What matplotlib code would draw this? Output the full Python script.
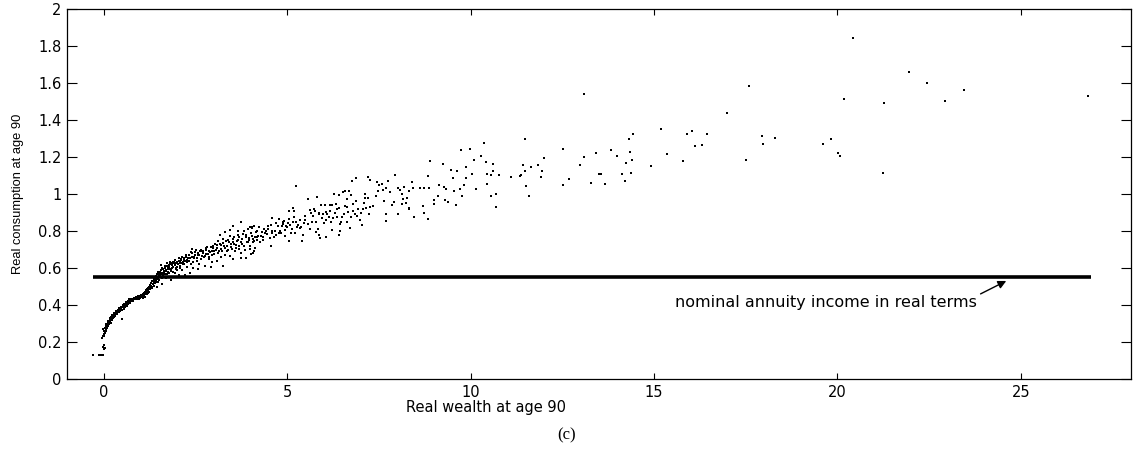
import matplotlib
matplotlib.use("Agg")
import matplotlib.pyplot as plt
from matplotlib import font_manager

# ---------------- data ----------------
# (real wealth at age 90, real consumption at age 90)
cloud_start = [
    (-0.30, 0.13), (-0.14, 0.13), (-0.08, 0.13), (-0.03, 0.13), (0.00, 0.16), (0.02, 0.17),
    (-0.02, 0.175), (0.01, 0.185), (0.03, 0.165), (-0.04, 0.22), (-0.02, 0.235), (0.00, 0.245),
    (0.01, 0.26), (-0.01, 0.27), (0.03, 0.25), (0.04, 0.275), (0.05, 0.26), (0.06, 0.285),
    (0.08, 0.28), (0.09, 0.295), (0.10, 0.30), (0.12, 0.29), (0.13, 0.31), (0.15, 0.305),
    (0.16, 0.32), (0.18, 0.315), (0.20, 0.325), (0.21, 0.335), (0.23, 0.33), (0.25, 0.34),
    (0.27, 0.345), (0.28, 0.335), (0.30, 0.35), (0.32, 0.355), (0.34, 0.35), (0.35, 0.36),
    (0.37, 0.365), (0.39, 0.36), (0.40, 0.37), (0.42, 0.375), (0.44, 0.38), (0.46, 0.375),
    (0.48, 0.385), (0.50, 0.39), (0.51, 0.326), (0.53, 0.395), (0.55, 0.39), (0.57, 0.40),
    (0.60, 0.405), (0.62, 0.40), (0.64, 0.41), (0.66, 0.415), (0.68, 0.42), (0.70, 0.415),
    (0.72, 0.425), (0.75, 0.43), (0.78, 0.425), (0.80, 0.435), (0.83, 0.43), (0.86, 0.44),
    (0.88, 0.435), (0.90, 0.44), (0.93, 0.445), (0.95, 0.435), (0.98, 0.45), (1.00, 0.44),
    (1.02, 0.455), (1.05, 0.445), (1.07, 0.46), (1.10, 0.45), (1.12, 0.47), (1.14, 0.46),
    (1.16, 0.48), (1.18, 0.475), (1.20, 0.49), (1.21, 0.465), (1.23, 0.50), (1.25, 0.485),
    (1.27, 0.51), (1.28, 0.495), (1.30, 0.52), (1.31, 0.50), (1.33, 0.53), (1.35, 0.515),
    (1.36, 0.54), (1.38, 0.525), (1.40, 0.545), (1.41, 0.52), (1.43, 0.555), (1.45, 0.54),
    (1.46, 0.565), (1.48, 0.55), (1.50, 0.57), (1.52, 0.555), (1.53, 0.58), (1.55, 0.565),
    (1.57, 0.59), (1.58, 0.545), (1.60, 0.575), (1.62, 0.595), (1.63, 0.56), (1.65, 0.585),
    (1.67, 0.60), (1.68, 0.57), (1.70, 0.59), (1.72, 0.61), (1.74, 0.58), (1.76, 0.60),
    (1.78, 0.615), (1.80, 0.595), (1.82, 0.62), (1.85, 0.60), (1.87, 0.625), (1.90, 0.605),
    (1.92, 0.63), (1.95, 0.615), (1.97, 0.60), (2.00, 0.635), (2.02, 0.62), (2.05, 0.64),
    (2.08, 0.625), (2.10, 0.65), (2.15, 0.635), (2.18, 0.655), (2.22, 0.64), (2.25, 0.66),
    (2.28, 0.645), (2.32, 0.67), (2.35, 0.655), (2.38, 0.62), (2.42, 0.68), (2.46, 0.66),
    (2.50, 0.685), (2.53, 0.64), (2.56, 0.67), (2.62, 0.69), (2.66, 0.65), (2.70, 0.68),
    (2.75, 0.665), (2.80, 0.70), (2.84, 0.675), (2.88, 0.66), (2.92, 0.715), (2.96, 0.69),
    (3.00, 0.675), (3.05, 0.70), (3.10, 0.725), (3.14, 0.69), (3.20, 0.705), (3.26, 0.735),
    (3.30, 0.67), (3.36, 0.72), (3.40, 0.695), (3.42, 0.74), (3.48, 0.715), (3.55, 0.73),
    (3.58, 0.69), (3.62, 0.745), (3.70, 0.72), (3.78, 0.755), (3.84, 0.70), (3.90, 0.74),
    (3.96, 0.76), (4.00, 0.72), (4.06, 0.755), (4.12, 0.71), (4.20, 0.775), (4.25, 0.74),
    (4.35, 0.75), (4.42, 0.80), (4.52, 0.76), (4.58, 0.79), (4.70, 0.78), (4.80, 0.80),
    (4.90, 0.84), (5.00, 0.82), (5.10, 0.79), (5.25, 0.85), (5.38, 0.82), (5.50, 0.86),
    (5.58, 0.84), (5.70, 0.88), (5.80, 0.85), (5.95, 0.87), (6.10, 0.89), (6.20, 0.85),
    (6.30, 0.90), (6.45, 0.80), (6.55, 0.89), (6.62, 0.85), (6.80, 0.91), (6.90, 0.88),
    (7.00, 0.90), (7.05, 0.83), (4.08, 0.683), (4.55, 0.72), (5.40, 0.746), (5.05, 0.745),
    (5.90, 0.76), (6.40, 0.78),
]

cloud_band = [
    (0.02, 0.23), (0.04, 0.255), (0.06, 0.27), (0.07, 0.30), (0.09, 0.275), (0.11, 0.285),
    (0.12, 0.315), (0.14, 0.295), (0.17, 0.33), (0.19, 0.305), (0.22, 0.32), (0.24, 0.345),
    (0.26, 0.33), (0.29, 0.355), (0.31, 0.34), (0.33, 0.365), (0.36, 0.35), (0.38, 0.375),
    (0.41, 0.36), (0.43, 0.385), (0.45, 0.37), (0.47, 0.39), (0.49, 0.375), (0.52, 0.40),
    (0.54, 0.38), (0.56, 0.405), (0.58, 0.39), (0.61, 0.415), (0.63, 0.395), (0.65, 0.42),
    (0.67, 0.405), (0.69, 0.43), (0.71, 0.41), (0.74, 0.42), (0.77, 0.435), (0.79, 0.42),
    (0.82, 0.44), (0.85, 0.43), (0.87, 0.445), (0.91, 0.43), (0.94, 0.45), (0.97, 0.44),
    (1.01, 0.445), (1.04, 0.455), (1.06, 0.44), (1.09, 0.465), (1.11, 0.455), (1.13, 0.445),
    (1.15, 0.47), (1.17, 0.46), (1.19, 0.485), (1.22, 0.48), (1.24, 0.47), (1.26, 0.495),
    (1.29, 0.505), (1.32, 0.49), (1.34, 0.515), (1.37, 0.505), (1.39, 0.53), (1.42, 0.535),
    (1.44, 0.525), (1.47, 0.545), (1.49, 0.58), (1.51, 0.535), (1.54, 0.56), (1.56, 0.575),
    (1.59, 0.60), (1.61, 0.555), (1.64, 0.575), (1.66, 0.61), (1.69, 0.585), (1.71, 0.565),
    (1.73, 0.625), (1.75, 0.595), (1.77, 0.575), (1.79, 0.605), (1.81, 0.635), (1.83, 0.59),
    (1.86, 0.615), (1.88, 0.58), (1.91, 0.625), (1.93, 0.645), (1.96, 0.595), (1.98, 0.625),
    (2.01, 0.605), (2.04, 0.655), (2.07, 0.635), (2.09, 0.60), (2.12, 0.625), (2.14, 0.66),
    (2.17, 0.62), (2.20, 0.645), (2.23, 0.67), (2.26, 0.63), (2.30, 0.655), (2.33, 0.64),
    (2.37, 0.685), (2.40, 0.66), (2.44, 0.63), (2.48, 0.67), (2.52, 0.695), (2.55, 0.655),
    (2.58, 0.68), (2.64, 0.70), (2.68, 0.665), (2.72, 0.69), (2.78, 0.675), (2.82, 0.715),
    (2.87, 0.69), (2.94, 0.67), (2.98, 0.72), (3.02, 0.69), (3.08, 0.71), (3.12, 0.68),
    (3.16, 0.73), (3.22, 0.69), (3.28, 0.72), (3.33, 0.745), (3.38, 0.70), (3.46, 0.73),
    (3.53, 0.755), (3.60, 0.725), (3.68, 0.765), (3.75, 0.74), (3.82, 0.72), (3.88, 0.78),
    (3.95, 0.75), (4.02, 0.79), (4.09, 0.745), (4.18, 0.80), (4.28, 0.775), (4.40, 0.79),
    (4.48, 0.81), (4.56, 0.835), (4.66, 0.80), (4.75, 0.825), (4.84, 0.79), (4.92, 0.855),
    (5.04, 0.865), (5.12, 0.81), (5.28, 0.82), (5.48, 0.88), (5.68, 0.85), (5.88, 0.89),
    (6.05, 0.86), (6.18, 0.91), (6.35, 0.92), (6.48, 0.85), (6.62, 0.93), (6.84, 0.89),
    (7.10, 0.95),
]

cloud_low = [
    (3.73, 0.846), (3.52, 0.828), (3.99, 0.824), (3.93, 0.812), (4.04, 0.814), (3.31, 0.792),
    (3.45, 0.775), (3.56, 0.766), (3.66, 0.776), (3.81, 0.783), (3.89, 0.765), (4.03, 0.772),
    (4.15, 0.792), (4.17, 0.75), (4.07, 0.739), (3.93, 0.739), (3.77, 0.732), (3.67, 0.75),
    (3.52, 0.741), (3.39, 0.75), (3.24, 0.755), (3.12, 0.748), (3.03, 0.732), (2.99, 0.71),
    (3.19, 0.723), (3.31, 0.71), (3.35, 0.692), (3.50, 0.703), (3.60, 0.71), (3.70, 0.705),
    (3.74, 0.683), (3.99, 0.705), (4.11, 0.694), (4.02, 0.676), (3.87, 0.654), (3.73, 0.654),
    (3.45, 0.665), (3.52, 0.647), (3.25, 0.612), (3.08, 0.64), (2.90, 0.686), (2.79, 0.708),
    (2.68, 0.694), (2.59, 0.67), (2.73, 0.659), (2.86, 0.651), (2.96, 0.63), (2.93, 0.603),
    (2.77, 0.612), (2.60, 0.621), (2.40, 0.703), (2.45, 0.652), (2.32, 0.636), (2.19, 0.62),
    (2.27, 0.603), (2.44, 0.598), (2.56, 0.592), (2.36, 0.574), (2.13, 0.587), (2.08, 0.609),
    (1.99, 0.591), (1.95, 0.571), (1.84, 0.582), (1.73, 0.565), (1.62, 0.574), (1.56, 0.618),
    (1.90, 0.634), (2.12, 0.641), (2.06, 0.564), (2.21, 0.564), (1.48, 0.565), (1.39, 0.547),
    (1.34, 0.529), (1.49, 0.527), (1.60, 0.511), (1.44, 0.496), (1.84, 0.536), (1.69, 0.547),
    (3.21, 0.659), (3.44, 0.804), (3.17, 0.776), (3.65, 0.799), (3.83, 0.80), (4.17, 0.768),
]

cloud_mid = [
    (5.24, 1.042), (6.76, 1.071), (6.89, 1.087), (5.82, 0.984), (5.56, 0.971), (6.29, 1.0),
    (6.41, 0.995), (6.52, 1.011), (6.58, 1.014), (6.69, 1.014), (6.73, 0.993), (6.64, 0.971),
    (6.87, 0.963), (6.59, 0.937), (6.79, 0.946), (7.08, 0.92), (5.92, 0.94), (6.03, 0.938),
    (6.17, 0.938), (6.23, 0.94), (6.34, 0.946), (6.40, 0.922), (5.74, 0.918), (5.61, 0.913),
    (5.15, 0.926), (5.20, 0.908), (5.05, 0.906), (5.64, 0.90), (5.76, 0.908), (5.86, 0.895),
    (5.98, 0.891), (6.07, 0.904), (6.15, 0.877), (6.25, 0.871), (6.37, 0.877), (6.50, 0.875),
    (6.67, 0.902), (6.73, 0.873), (6.93, 0.92), (7.22, 0.893), (6.99, 0.857), (6.70, 0.814),
    (6.43, 0.837), (6.23, 0.806), (6.01, 0.842), (5.85, 0.81), (5.79, 0.792), (5.63, 0.81),
    (5.45, 0.841), (5.34, 0.857), (5.30, 0.835), (5.35, 0.814), (5.18, 0.877), (5.16, 0.846),
    (5.09, 0.833), (5.02, 0.844), (4.96, 0.828), (4.89, 0.846), (4.79, 0.864), (4.59, 0.868),
    (4.70, 0.841), (4.86, 0.826), (4.95, 0.806), (4.77, 0.788), (4.49, 0.826), (4.38, 0.81),
    (4.22, 0.819), (4.11, 0.826), (4.04, 0.819), (4.14, 0.792), (4.31, 0.792), (4.46, 0.783),
    (4.60, 0.80), (4.65, 0.766), (4.95, 0.772), (5.22, 0.79), (5.43, 0.781), (5.86, 0.781),
    (6.07, 0.768), (4.12, 0.765), (4.33, 0.766),
]

cloud_upper = [
    (9.75, 1.239), (9.99, 1.245), (10.09, 1.185), (8.89, 1.178), (9.26, 1.163), (9.46, 1.132),
    (9.64, 1.125), (9.88, 1.147), (10.05, 1.109), (9.87, 1.085), (8.83, 1.098), (9.52, 1.089),
    (9.83, 1.051), (9.72, 1.029), (10.15, 1.029), (9.28, 1.036), (9.32, 1.027), (9.15, 1.049),
    (9.55, 1.018), (9.76, 0.989), (9.11, 0.989), (9.30, 0.967), (9.39, 0.955), (9.60, 0.938),
    (9.00, 0.967), (8.99, 0.946), (8.70, 0.935), (8.87, 1.033), (8.61, 1.034), (8.74, 1.033),
    (8.41, 1.063), (8.44, 1.034), (8.31, 1.018), (8.19, 1.036), (8.08, 1.02), (8.03, 1.034),
    (7.95, 1.101), (7.76, 1.072), (7.80, 1.011), (8.14, 0.998), (8.28, 0.976), (8.15, 0.975),
    (8.24, 0.953), (8.14, 0.944), (8.31, 0.922), (7.90, 0.955), (7.86, 0.938), (7.70, 1.034),
    (7.60, 1.023), (7.58, 1.054), (7.51, 1.049), (7.44, 1.065), (7.49, 1.015), (7.42, 0.987),
    (7.63, 0.962), (7.26, 1.078), (7.21, 1.094), (7.12, 1.002), (7.13, 0.978), (7.20, 0.978),
    (7.26, 0.931), (7.33, 0.933), (7.15, 0.924), (7.69, 0.853), (8.84, 0.864), (10.68, 0.929),
    (8.45, 0.875), (7.70, 0.89), (8.73, 0.898), (8.03, 0.893), (8.32, 0.918),
    (13.10, 1.54), (10.36, 1.273), (11.48, 1.30), (10.28, 1.207), (10.43, 1.172), (10.61, 1.161),
    (10.61, 1.125), (10.45, 1.109), (10.57, 1.105), (10.77, 1.105), (10.45, 1.053), (10.57, 0.989),
    (10.69, 1.002), (11.11, 1.092), (11.34, 1.098), (11.37, 1.10), (11.43, 1.158), (11.48, 1.123),
    (11.50, 1.045), (11.58, 0.987), (11.66, 1.147), (11.84, 1.159), (11.94, 1.125), (11.93, 1.092),
    (11.99, 1.194), (12.53, 1.243), (12.69, 1.082), (12.52, 1.049), (12.98, 1.156), (13.08, 1.199),
    (13.28, 1.06), (13.42, 1.221), (13.51, 1.107), (13.55, 1.107), (13.67, 1.054), (13.82, 1.239),
    (13.98, 1.208),
]

cloud_sparse = [
    (20.43, 1.842), (20.17, 1.513), (17.60, 1.583), (16.99, 1.436), (15.20, 1.352), (14.42, 1.322),
    (14.31, 1.295), (14.34, 1.228), (14.24, 1.165), (14.40, 1.183), (14.14, 1.107), (14.38, 1.114),
    (14.20, 1.069), (14.93, 1.154), (15.35, 1.214), (15.80, 1.181), (15.90, 1.324), (16.03, 1.34),
    (16.12, 1.261), (16.31, 1.266), (16.44, 1.324), (17.52, 1.183), (17.94, 1.313), (17.96, 1.27),
    (18.31, 1.303), (19.61, 1.268), (19.81, 1.295), (20.01, 1.221), (20.06, 1.208),
    (21.94, 1.659), (22.45, 1.60), (23.46, 1.561), (22.94, 1.502), (21.27, 1.494), (21.25, 1.116),
    (26.82, 1.529),
]

annuity_level = 0.55
annuity_x = [-0.3, 26.9]

x_ticks = [0, 5, 10, 15, 20, 25]
y_ticks = [0, 0.2, 0.4, 0.6, 0.8, 1.0, 1.2, 1.4, 1.6, 1.8, 2.0]
y_tick_labels = ["0", "0.2", "0.4", "0.6", "0.8", "1", "1.2", "1.4", "1.6", "1.8", "2"]

x_label = "Real wealth at age 90"
y_label = "Real consumption at age 90"
note_text = "nominal annuity income in real terms"
caption = "(c)"

# ---------------- fonts ----------------
available = {f.name for f in font_manager.fontManager.ttflist}
narrow = "Liberation Sans Narrow" if "Liberation Sans Narrow" in available else "Liberation Sans"
wide = "DejaVu Sans"

# ---------------- figure ----------------
W, H = 1133, 471
fig = plt.figure(figsize=(W / 100, H / 100), dpi=100)
ax = fig.add_axes([67 / W, (H - 379) / H, (1131 - 67) / W, (379 - 9) / H])

points = cloud_start + cloud_band + cloud_low + cloud_mid + cloud_upper + cloud_sparse
wealth = [p[0] for p in points]
consumption = [p[1] for p in points]

ax.plot(wealth, consumption, linestyle="none", marker="s", markersize=1.9,
        markeredgewidth=0, color="black")
ax.plot(annuity_x, [annuity_level, annuity_level], color="black", lw=2.6,
        solid_capstyle="butt")

ax.set_xlim(-1, 28)
ax.set_ylim(0, 2)
ax.set_xticks(x_ticks)
ax.set_xticklabels([str(t) for t in x_ticks])
ax.set_yticks(y_ticks)
ax.set_yticklabels(y_tick_labels)

ax.tick_params(axis="both", direction="in", top=True, right=True, width=0.8,
               labelsize=10.5, colors="black")
ax.tick_params(axis="x", length=4.3, pad=4)
ax.tick_params(axis="y", length=7.2, pad=4)
for lab in ax.get_xticklabels() + ax.get_yticklabels():
    lab.set_fontfamily(wide)
for sp in ax.spines.values():
    sp.set_linewidth(0.9)

ax.set_xlabel(x_label, fontsize=10.5, fontfamily=wide)
ax.xaxis.set_label_coords(0.394, -0.056)
ax.set_ylabel(y_label, fontsize=9.3, fontfamily=narrow)
ax.yaxis.set_label_coords(-0.040, 0.5)

# annotation
ax.text(23.8, 0.415, note_text, fontsize=11.5, fontfamily=wide, ha="right", va="center")
ax.annotate("", xy=(24.6, 0.53), xytext=(23.9, 0.46),
            arrowprops=dict(arrowstyle="-|>", color="black", lw=1.0,
                            mutation_scale=12, shrinkA=0, shrinkB=0))

fig.text(567 / W, 1 - 435 / H, caption, fontsize=12, fontfamily="Liberation Serif",
         ha="center", va="center")

fig.savefig("out.png", dpi=100)
